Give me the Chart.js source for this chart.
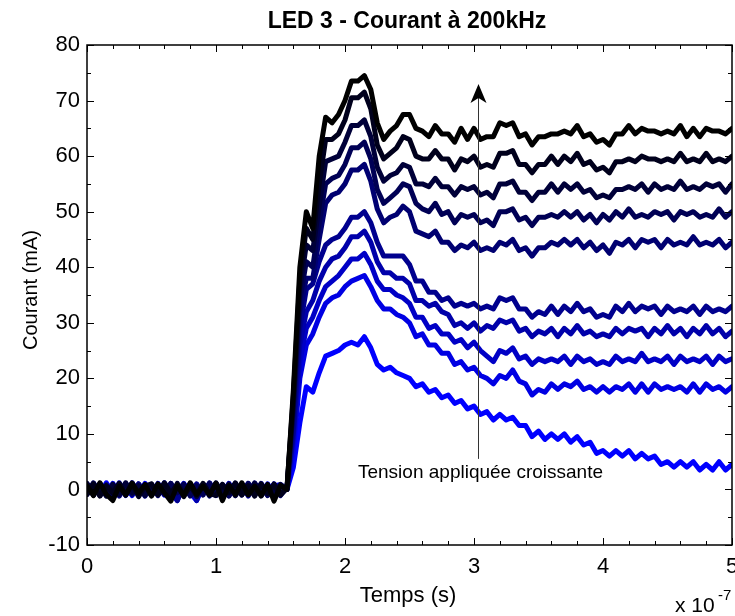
<!DOCTYPE html>
<html>
<head>
<meta charset="utf-8">
<script src="https://cdn.jsdelivr.net/npm/chart.js@4.4.1/dist/chart.umd.min.js"></script>
<style>
  html, body { margin: 0; padding: 0; background: #fff; }
  canvas { display: block; }
</style>
</head>
<body>
<canvas id="chart" width="735" height="616"></canvas>
<script>
// time in units of 1e-7 s
const T = [0,0.05,0.1,0.15,0.2,0.25,0.3,0.35,0.4,0.45,
  0.5,0.55,0.6,0.65,0.7,0.75,0.8,0.85,0.9,0.95,
  1,1.05,1.1,1.15,1.2,1.25,1.3,1.35,1.4,1.45,
  1.5,1.55,1.6,1.65,1.7,1.75,1.8,1.85,1.9,1.95,
  2,2.05,2.1,2.15,2.2,2.25,2.3,2.35,2.4,2.45,
  2.5,2.55,2.6,2.65,2.7,2.75,2.8,2.85,2.9,2.95,
  3,3.05,3.1,3.15,3.2,3.25,3.3,3.35,3.4,3.45,
  3.5,3.55,3.6,3.65,3.7,3.75,3.8,3.85,3.9,3.95,
  4,4.05,4.1,4.15,4.2,4.25,4.3,4.35,4.4,4.45,
  4.5,4.55,4.6,4.65,4.7,4.75,4.8,4.85,4.9,4.95,
  5];

// courant (mA), lowest voltage first
const c1 = [-0.8,1.0,-0.9,1.2,-0.6,0.8,-1.1,0.9,-0.7,1.1,
  -0.9,0.6,-1.0,0.9,-0.7,1.1,-0.6,-2.0,0.8,-1.0,
  0.9,-0.7,1.1,-0.9,0.6,-1.0,0.8,-0.7,1.0,-0.9,
  0.6,0,4,12,18.5,17.5,21,24,24.5,25,
  26,26.5,26,27.5,25.5,22.5,21.5,22,21,20.5,
  20,18.5,19,17.5,18,16.5,17,15.5,16,14.5,
  15,13.5,14,12.5,13.5,12.5,13,11.5,11.5,9.5,
  10.5,9,10,9,10,8.5,9.5,8,8.5,6.5,
  7,6,7,6,7,5.5,6.5,5.5,6,4.5,
  5,4,5,4,5,3.5,4.5,3.5,5,3.5,
  4.5];
const c2 = [0.9,-1.0,0.7,-0.6,1.1,-0.9,0.6,-1.1,1.0,-0.7,
  0.6,-0.9,1.2,-0.7,-2.0,0.9,-1.0,0.7,-0.6,0.9,
  -1.1,0.7,-0.9,1.0,-0.6,1.1,-0.7,0.9,-1.0,0.6,
  0.9,0,7,20,26,28,31,33.5,34.5,35,
  36.5,37.5,38,38.5,36.5,34,32.5,32.5,31.5,31,
  30,27.5,28,26,26,24.5,24.5,22.5,23,21.5,
  22,20.5,20,19,20.5,20,21.5,19.5,19,17,
  18,17.5,19,18,19,18.5,19.5,18,18.5,17.5,
  18.5,17.5,18.5,18,19,17.5,19,17.5,19,18,
  18.5,18,18.5,17.5,19,17.5,19,18,18.5,17.5,
  18.5];
const c3 = [-0.6,0.9,-1.1,0.7,-0.9,1.2,-0.7,0.6,-1.0,0.9,
  -0.7,1.1,-0.9,0.6,-1.2,0.7,-1.0,0.9,-0.6,1.1,
  -0.9,0.7,-1.0,1.1,-0.7,0.6,-1.1,0.9,-0.7,1.0,
  -0.7,0.3,9,23,29,31,34,36.5,37.5,38.5,
  40,41.5,41.5,42.5,40.5,37.5,36,36,35,34.5,
  33.5,31,31,29,29.5,28,28,26.5,27,25.5,
  26.5,25,24,23,25,24.5,25.5,23.5,24,22.5,
  23.5,23,23.5,23,24,22.5,24,23,23.5,22.5,
  23,22.5,24,23,23.5,23,24.5,23,23.5,23,
  24,22.5,24,23,23.5,23,24,22.5,24,23,
  23.5];
const c4 = [1.0,-0.7,0.9,-1.1,0.6,-0.9,1.1,-0.6,0.7,-1.2,
  0.9,-0.7,1.0,-1.1,0.7,-0.9,0.6,-2.0,0.9,-0.7,
  1.1,-1.0,0.7,-0.6,0.9,-1.2,1.0,-0.7,0.6,-0.9,
  0.7,0,10,26,32,34,37.5,40,41.5,42,
  43.5,45.5,45.5,46.5,44.5,41,39,39,38,38,
  37,34,34,33,33.5,32,31.5,29.5,30,29,
  30,28.5,29.5,29,30.5,30,30.5,28.5,29,27.5,
  28.5,28,29,27.5,29,28,29.5,28,28.5,27.5,
  28,27.5,29,28,29,28.5,29,27.5,29,28,
  29.5,28,29,27.5,29,28,29.5,28,29,27.5,
  28.5];
const c5 = [-0.9,1.1,-0.6,0.9,-1.2,0.7,-1.0,1.2,-0.7,0.6,
  -1.0,0.9,-0.7,1.1,-2.0,0.7,-0.9,1.0,-0.6,1.2,
  -0.9,0.7,-1.1,0.6,-1.0,0.9,-0.7,1.1,-0.9,0.7,
  -1.1,0.4,11,29,36,37,41,44,45,45.5,
  47,49,49,50,48,44.5,42,42,42,42,
  40.5,37.5,37.5,35.5,35.5,34,34.5,33,33.5,33,
  33.5,32.5,33,32.5,34.5,34,34.5,32.5,32.5,31,
  32,31.5,33,31.5,33,32,33.5,32,32.5,31,
  31.5,31,33,32,33.5,32,33,32.5,33,31.5,
  33,32,32.5,32,33,31.5,33,32,32.5,32,
  33];
const c6 = [0.6,-1.0,1.1,-0.7,0.9,-1.2,0.7,-0.9,1.0,-0.6,
  0.7,-1.1,1.0,-0.7,0.6,-1.0,1.1,-0.7,0.9,-1.2,
  1.0,-0.6,0.7,-1.1,0.9,-0.7,1.2,-1.0,0.6,-0.9,
  0.7,0,14,32,38,38,45,51.5,53,53.5,
  55,57.5,57.5,58.5,55.5,50.5,48,49,49.5,51,
  50,46.5,46,45.5,46.5,44.5,44.5,43,44,43.5,
  44.5,43,43.5,43,44.5,44,45,43,43.5,42,
  43.5,43.5,44.5,44,45,44,45,43.5,44.5,43,
  44,42.5,44.5,44,45,43.5,45,44.5,45,43.5,
  45,44,44.5,44,45.5,44,44.5,44,45,43.5,
  44.5];
const c7 = [-0.7,1.2,-1.0,0.6,-1.1,0.9,-0.7,1.2,-0.9,0.5,
  -1.1,0.7,-0.9,1.1,-0.6,1.0,-1.2,0.7,-1.0,1.1,
  -0.6,0.9,-1.2,0.7,-0.9,1.1,-0.7,0.6,-1.1,1.0,
  -0.9,0.2,15,34,41,40,48,55,56,56.5,
  58.5,61.5,61.5,62.5,59.5,54,51.5,52.5,53.5,55,
  54.5,51.5,50.5,50,51.5,49.5,50,48,49.5,49,
  49.5,48,48.5,47.5,50,50,50.5,48.5,49,47.5,
  49,49,49.5,49,50,49,50,48.5,49.5,48,
  49.5,48.5,50,49,50.5,49,49.5,49,50,49.5,
  50,48.5,50,49.5,50,49,49.5,49,50.5,49,
  50];
const c8 = [1.1,-0.7,0.6,-1.2,0.9,-0.9,1.2,-0.6,0.7,-1.1,
  0.9,-1.0,0.7,-1.2,1.1,-0.6,0.9,-1.3,0.7,-0.9,
  1.2,-0.7,1.0,-1.1,0.6,-0.9,1.1,-1.2,0.7,-0.6,
  0.9,0,16,36,44,43,51,59,59.5,60,
  62.5,65.5,65.5,66.5,63.5,58,55.5,56.5,57,58.5,
  58,55,55,54.5,56,54.5,54.5,53,54.5,54,
  54.5,53,53.5,52.5,55,55,55.5,53.5,53.5,52,
  53.5,53.5,55,53.5,55,54,55,53.5,54,52.5,
  53,52.5,54,54,54.5,54,55,53.5,55,54,
  54.5,54,55.5,54,54.5,54,55,54.5,55,53.5,
  55];
const c9 = [-0.9,1.0,-1.2,0.7,-0.6,1.1,-1.0,0.9,-1.3,0.6,
  1.0,-0.9,1.2,-0.7,0.9,-1.3,0.6,-1.0,1.1,-0.7,
  -1.1,0.9,-0.6,1.2,-1.0,0.7,-1.2,1.0,-0.7,0.9,
  -1.0,0.3,17,38,47,45,55,63,63,64,
  66.5,70.5,70.5,71.5,68.5,62,59.5,60.5,61.5,63.5,
  63,60,59.5,59.5,61,59.5,59.5,57.5,59.5,59,
  60,58,58.5,58,60.5,60.5,61,58.5,58.5,57,
  58.5,58.5,60,58.5,60,59,60.5,58.5,59,57.5,
  58,57,59,59,59.5,59,60,59.5,59.5,59,
  59.5,59,60.5,59,59.5,59,60.5,59,59.5,59,
  60];
const c10 = [0.7,-1.1,1.2,-0.9,-2.0,0.6,-1.0,1.1,-0.7,0.9,
  -1.2,1.0,-0.6,-2.1,0.7,-1.1,1.2,-0.9,0.6,-1.0,
  1.1,-2.0,0.7,-0.9,1.2,-1.0,0.6,-1.1,0.9,-2.1,
  0.7,0,18,40,50,47,60,67,66,67.5,
  70,73.5,73.5,74.5,72,66,63,64.5,65.5,67.5,
  67.5,65,64.5,63.5,65.5,64,64,62.5,65,63,
  65,63,63.5,63.5,66,65.5,66,63.5,64,62,
  63.5,63.5,64,64,64.5,64,65.5,63.5,64,62.5,
  63,62,64,64,65.5,64,65,64.5,64.5,64,
  64.5,64,65.5,63.5,65,63.5,65,64.5,64.5,64,
  65];

const SERIES = [c1, c2, c3, c4, c5, c6, c7, c8, c9, c10];
const X_LABELS = [0, 1, 2, 3, 4, 5];
const Y_LABELS = [-10, 0, 10, 20, 30, 40, 50, 60, 70, 80];

const FONT = 'Arial, "Liberation Sans", Helvetica, sans-serif';

function tickText(v, labels){
  const hit = labels.find(l => Math.abs(l - v) < 1e-6);
  return hit === undefined ? '' : String(hit);
}

// blue -> black as the voltage goes up
const datasets = SERIES.map((s, k) => {
  const b = Math.round(255 * (SERIES.length - 1 - k) / (SERIES.length - 1));
  return {
    data: s.map((v, i) => ({x: T[i], y: v})),
    borderColor: `rgb(0,0,${b})`,
    borderWidth: 5,
    borderJoinStyle: 'round',
    borderCapStyle: 'round',
    pointRadius: 0,
    tension: 0,
    fill: false
  };
}).reverse(); // first dataset is drawn on top

const frame = {
  id: 'frame',
  afterDraw(chart){
    const {ctx, chartArea: a, scales: {x, y}} = chart;
    ctx.save();
    ctx.strokeStyle = '#000';

    // inward ticks, all four sides
    ctx.lineWidth = 1;
    ctx.beginPath();
    x.ticks.forEach(t => {
      const px = Math.round(x.getPixelForValue(t.value)) + 0.5;
      const len = t.label !== '' ? 7 : 4;
      ctx.moveTo(px, a.bottom); ctx.lineTo(px, a.bottom - len);
      ctx.moveTo(px, a.top); ctx.lineTo(px, a.top + len);
    });
    y.ticks.forEach(t => {
      const py = Math.round(y.getPixelForValue(t.value)) + 0.5;
      const len = t.label !== '' ? 7 : 4;
      ctx.moveTo(a.left, py); ctx.lineTo(a.left + len, py);
      ctx.moveTo(a.right, py); ctx.lineTo(a.right - len, py);
    });
    ctx.stroke();

    ctx.lineWidth = 1.5;
    ctx.strokeRect(a.left, a.top, a.right - a.left, a.bottom - a.top);

    // arrow "tension appliquée croissante"
    const ax = Math.round(x.getPixelForValue(3.03)) + 0.5;
    const yTop = y.getPixelForValue(73);
    const yBot = y.getPixelForValue(5.5);
    ctx.strokeStyle = '#333';
    ctx.lineWidth = 1;
    ctx.beginPath();
    ctx.moveTo(ax, yBot); ctx.lineTo(ax, yTop + 10);
    ctx.stroke();
    ctx.fillStyle = '#000';
    ctx.beginPath();
    ctx.moveTo(ax, yTop);
    ctx.lineTo(ax - 8, yTop + 19);
    ctx.lineTo(ax, yTop + 14);
    ctx.lineTo(ax + 8, yTop + 19);
    ctx.closePath();
    ctx.fill();

    ctx.fillStyle = '#000';
    ctx.textAlign = 'center';
    ctx.textBaseline = 'alphabetic';
    ctx.font = `19px ${FONT}`;
    ctx.fillText('Tension appliquée croissante', ax + 2, y.getPixelForValue(2));

    // title
    ctx.font = `bold 23px ${FONT}`;
    ctx.fillText('LED 3 - Courant à 200kHz', 407, 28);

    // axis titles
    ctx.font = `22px ${FONT}`;
    ctx.fillText('Temps (s)', 408, 602);
    ctx.save();
    ctx.translate(37, 290);
    ctx.rotate(-Math.PI / 2);
    ctx.font = `20px ${FONT}`;
    ctx.fillText('Courant (mA)', 0, 0);
    ctx.restore();

    // exponent
    ctx.textAlign = 'left';
    ctx.font = `21px ${FONT}`;
    ctx.fillText('x 10', 675, 612);
    ctx.font = `15px ${FONT}`;
    ctx.fillText('-7', 718, 600);

    ctx.restore();
  }
};

Chart.defaults.font.family = FONT;
Chart.defaults.color = '#000';

new Chart(document.getElementById('chart').getContext('2d'), {
  type: 'line',
  data: { datasets },
  options: {
    responsive: false,
    animation: false,
    layout: { padding: { top: 45, right: 3, left: 0, bottom: 0 } },
    plugins: { legend: { display: false }, tooltip: { enabled: false }, title: { display: false } },
    scales: {
      x: {
        type: 'linear', min: 0, max: 5,
        grid: { display: false, drawTicks: false },
        border: { display: false },
        ticks: { stepSize: 0.2, autoSkip: false, maxRotation: 0, padding: 9,
                 font: { size: 22 }, callback: v => tickText(v, X_LABELS) },
        afterFit(s){ s.height = 71; s.paddingLeft = 0; s.paddingRight = 0; }
      },
      y: {
        type: 'linear', min: -10, max: 80,
        grid: { display: false, drawTicks: false },
        border: { display: false },
        ticks: { stepSize: 5, autoSkip: false, padding: 7,
                 font: { size: 22 }, callback: v => tickText(v, Y_LABELS) },
        afterFit(s){ s.width = 87; s.paddingTop = 0; s.paddingBottom = 0; }
      }
    }
  },
  plugins: [frame]
});
</script>
</body>
</html>
